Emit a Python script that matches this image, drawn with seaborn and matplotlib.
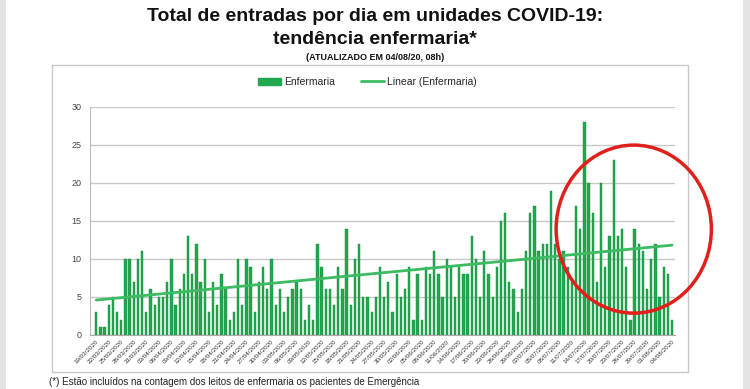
import numpy as np
import pandas as pd
import matplotlib.pyplot as plt
from matplotlib.patches import Ellipse, Rectangle, Patch
from matplotlib.lines import Line2D
import seaborn as sns

sns.set_style("white")
plt.rcParams['font.family'] = ['Liberation Sans Narrow', 'Liberation Sans', 'DejaVu Sans']

# daily admissions to ward (enfermaria), 19/03/2020 .. 04/08/2020
start = "2020-03-19"
enfermaria = [3, 1, 1, 4, 5, 3, 2, 10, 10, 7, 10, 11, 3, 6, 4, 5, 5, 7, 10, 4,
              6, 8, 13, 8, 12, 7, 10, 3, 7, 4, 8, 6, 2,
              3, 10, 4, 10, 9, 3, 7, 9, 6, 10, 4, 6, 3, 5, 6, 7, 6, 2, 4, 2,
              12, 9, 6, 6, 4, 9, 6, 14, 4, 10, 12, 5, 5, 3, 5, 9, 5, 7,
              3, 8, 5, 6, 9, 2, 8, 2, 9, 8, 11, 8, 5, 10, 9, 5, 9, 8, 8, 13,
              10, 5, 11, 8, 5, 9, 15, 16, 7, 6, 3, 6, 11, 16, 17, 11, 12, 12, 19,
              12, 10, 11, 9, 7, 17, 14, 28, 20, 16, 7, 20, 9, 13, 23, 13, 14,
              9, 2, 14, 12, 11, 6, 10, 12, 5, 9, 8, 2]

dates = pd.date_range(start, periods=len(enfermaria), freq="D")
df = pd.DataFrame({"dia": np.arange(len(enfermaria)), "Enfermaria": enfermaria})

bar_green = "#21a84f"
line_green = "#3dbb62"

fig = plt.figure(figsize=(7.5, 3.89), dpi=100)
ax = fig.add_axes([0.12, 0.139, 0.78, 0.586])

sns.barplot(data=df, x="dia", y="Enfermaria", color=bar_green, width=0.55,
            saturation=1, ax=ax, edgecolor="#178a3d", linewidth=0.3)
sns.regplot(data=df, x="dia", y="Enfermaria", scatter=False, ci=None,
            color=line_green, line_kws={"linewidth": 2}, ax=ax)

ax.set_ylim(0, 30)
ax.set_yticks(range(0, 31, 5))
ax.set_xlim(-1.5, len(enfermaria) - 0.3)
ticks = list(range(0, len(enfermaria), 3))
ax.set_xticks(ticks)
ax.set_xticklabels([dates[i].strftime("%d/%m/%Y") for i in ticks],
                   rotation=45, ha="right", rotation_mode="anchor", fontsize=4.5,
                   color="#333333")
ax.tick_params(axis="y", labelsize=6.5, colors="#444444", length=0, pad=6)
ax.tick_params(axis="x", length=2, pad=1, colors="#888888")
for lab in ax.get_xticklabels():
    lab.set_color("#333333")
ax.set_xlabel("")
ax.set_ylabel("")
ax.yaxis.grid(True, color="#c8c8c8", linewidth=1)
ax.set_axisbelow(True)
for s in ["top", "right"]:
    ax.spines[s].set_visible(False)
ax.spines["left"].set_color("#bbbbbb")
ax.spines["bottom"].set_color("#aaaaaa")

handles = [Patch(facecolor=bar_green, edgecolor=bar_green),
           Line2D([0], [0], color=line_green, linewidth=2)]
fig.legend(handles, ["Enfermaria", "Linear (Enfermaria)"], loc="center",
           bbox_to_anchor=(0.49, 0.789), ncol=2, frameon=False, fontsize=7.5,
           handlelength=2.2, handletextpad=0.3, columnspacing=2.5)

# chart frame and photo borders
fig.add_artist(Rectangle((0.069, 0.044), 0.848, 0.789, transform=fig.transFigure,
                         fill=False, edgecolor="#c8c8c8", linewidth=1))
fig.add_artist(Rectangle((0, 0), 0.008, 1, transform=fig.transFigure,
                         facecolor="#e4e4e4", edgecolor="none"))
fig.add_artist(Rectangle((0.99, 0), 0.01, 1, transform=fig.transFigure,
                         facecolor="#e4e4e4", edgecolor="none"))

fig.text(0.5, 0.957, "Total de entradas por dia em unidades COVID-19:",
         ha="center", va="center", fontsize=14, fontweight="bold", color="#111111")
fig.text(0.5, 0.898, "tendência enfermaria*", ha="center", va="center",
         fontsize=14, fontweight="bold", color="#111111")
fig.text(0.5, 0.851, "(ATUALIZADO EM 04/08/20, 08h)", ha="center", va="center",
         fontsize=6.5, fontweight="bold", color="#111111")
fig.text(0.065, 0.004, "(*) Estão incluídos na contagem dos leitos de enfermaria os pacientes de Emergência",
         ha="left", va="bottom", fontsize=7, color="#222222")

# hand-drawn red circle highlight
fig.add_artist(Ellipse((0.845, 0.411), 0.207, 0.432, transform=fig.transFigure,
                       fill=False, edgecolor="#e0201b", linewidth=2.5))

fig.savefig("out.png", dpi=100)
